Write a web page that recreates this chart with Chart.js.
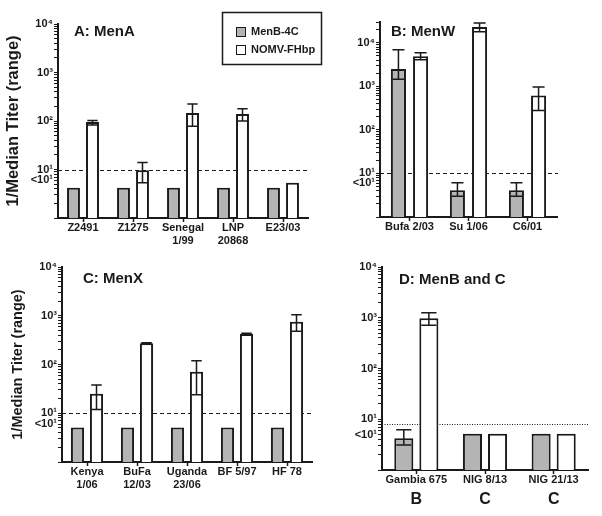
<!DOCTYPE html>
<html>
<head>
<meta charset="utf-8">
<script src="https://cdn.jsdelivr.net/npm/chart.js@4.4.1/dist/chart.umd.min.js"></script>
<style>
  body { margin:0; background:#fff; width:602px; height:516px; position:relative; overflow:hidden; }
  canvas { position:absolute; }
</style>
</head>
<body>
<canvas id="cA" width="330" height="258" style="left:0;top:0"></canvas>
<canvas id="cB" width="272" height="258" style="left:330px;top:0"></canvas>
<canvas id="cC" width="320" height="258" style="left:0;top:258px"></canvas>
<canvas id="cD" width="282" height="258" style="left:320px;top:258px"></canvas>
<script>
// valores (eje log, mediana y rango)
const seriesNames = ['MenB-4C', 'NOMV-FHbp'];
const yTickLabels = { 10: '10¹', 100: '10²', 1000: '10³', 10000: '10⁴' };
const lessLabel = '<10¹';

const catsA   = ['Z2491', 'Z1275', ['Senegal', '1/99'], ['LNP', '20868'], 'E23/03'];
const menbA   = [4.2, 4.2, 4.2, 4.2, 4.2];
const nomvA   = [95, 9.7, 146, 140, 5.3];
const nomvLoA = [83, 5.3, 78, 100, null];
const nomvHiA = [103, 14, 224, 178, null];

const catsB   = ['Bufa 2/03', 'Su 1/06', 'C6/01'];
const menbB   = [2500, 4.1, 4.1];
const menbLoB = [1450, 3.0, 3.0];
const menbHiB = [6900, 6.1, 6.1];
const nomvB   = [4900, 23000, 615];
const nomvLoB = [4100, 17800, 280];
const nomvHiB = [5900, 28500, 960];

const catsC   = [['Kenya', '1/06'], ['BuFa', '12/03'], ['Uganda', '23/06'], 'BF 5/97', 'HF 78'];
const menbC   = [5.1, 5.1, 5.1, 5.1, 5.1];
const nomvC   = [25, 272, 71, 420, 750];
const nomvLoC = [12, 265, 24, 400, 480];
const nomvHiC = [38, 280, 120, 440, 1050];

const catsD   = ['Gambia 675', 'NIG 8/13', 'NIG 21/13'];
const groupsD = ['B', 'C', 'C'];
const menbD   = [4.2, 5.2, 5.2];
const menbLoD = [3.1, null, null];
const menbHiD = [6.2, null, null];
const nomvD   = [980, 5.2, 5.2];
const nomvLoD = [710, null, null];
const nomvHiD = [1260, null, null];

const INK = '#1a1a1a', GRAY = '#b4b4b4';
const FONT = '"Liberation Sans", Arial, sans-serif';
Chart.defaults.font.family = FONT;
Chart.defaults.color = INK;

// ticks 1..9 por década, como en Prism
function logTicks(max) {
  const out = [];
  for (let p = 1; p <= max; p *= 10)
    for (let k = 1; k <= 9; k++) if (k * p <= max) out.push(k * p);
  return out;
}

const errorBars = {
  id: 'errorBars',
  afterDatasetsDraw(chart) {
    const { ctx } = chart, y = chart.scales.y;
    ctx.save();
    ctx.strokeStyle = INK;
    ctx.lineWidth = 1.5;
    chart.data.datasets.forEach((ds, i) => {
      if (!ds.lo) return;
      chart.getDatasetMeta(i).data.forEach((bar, j) => {
        if (ds.lo[j] == null) return;
        const y1 = y.getPixelForValue(ds.hi[j]), y2 = y.getPixelForValue(ds.lo[j]);
        const w = bar.width * 0.4;
        ctx.beginPath();
        ctx.moveTo(bar.x, y1); ctx.lineTo(bar.x, y2);
        ctx.moveTo(bar.x - w, y1); ctx.lineTo(bar.x + w, y1);
        ctx.moveTo(bar.x - w, y2); ctx.lineTo(bar.x + w, y2);
        ctx.stroke();
      });
    });
    ctx.restore();
  }
};

// línea de corte (detrás de las barras)
const cutoffLine = {
  id: 'cutoffLine',
  beforeDatasetsDraw(chart, args, opts) {
    const { ctx, chartArea } = chart;
    const yy = Math.round(chart.scales.y.getPixelForValue(opts.value)) + 0.5;
    ctx.save();
    ctx.strokeStyle = INK;
    ctx.lineWidth = opts.width;
    ctx.setLineDash(opts.dash);
    ctx.beginPath();
    ctx.moveTo(chartArea.left, yy);
    ctx.lineTo(chartArea.right + 1, yy);
    ctx.stroke();
    ctx.restore();
  }
};

const panelLabel = {
  id: 'panelLabel',
  afterDraw(chart, args, opts) {
    const { ctx, chartArea } = chart;
    ctx.save();
    ctx.font = `bold 15px ${FONT}`;
    ctx.fillStyle = INK;
    ctx.textBaseline = 'middle';
    ctx.fillText(opts.text, chartArea.left + opts.dx, chartArea.top + opts.dy);
    ctx.restore();
  }
};

// leyenda con recuadro, solo en el panel A
const boxLegend = {
  id: 'boxLegend',
  afterDraw(chart, args, opts) {
    const { ctx } = chart;
    ctx.save();
    ctx.strokeStyle = INK;
    ctx.lineWidth = 1.5;
    ctx.strokeRect(opts.x + 0.5, opts.y + 0.5, opts.w, opts.h);
    ctx.font = `bold 11px ${FONT}`;
    ctx.textBaseline = 'middle';
    chart.data.datasets.forEach((ds, i) => {
      const top = opts.y + 15 + i * 18;
      ctx.fillStyle = ds.backgroundColor;
      ctx.fillRect(opts.x + 14, top, 9, 9);
      ctx.lineWidth = 1;
      ctx.strokeRect(opts.x + 14.5, top + 0.5, 9, 9);
      ctx.fillStyle = INK;
      ctx.fillText(ds.label, opts.x + 29, top + 5);
    });
    ctx.restore();
  }
};

function makePanel(id, o) {
  const bar = { borderColor: INK, borderWidth: 2, categoryPercentage: o.cat, barPercentage: o.bar };
  const scales = {
    x: {
      offset: true,
      afterFit: s => { s.height = o.xHeight; },
      grid: { offset: false, drawOnChartArea: false, tickLength: 4, color: INK, tickWidth: 1.5 },
      border: { color: INK, width: 2 },
      ticks: { color: INK, padding: 0, maxRotation: 0, autoSkip: false, font: { size: 11, weight: 'bold', lineHeight: 1.15 } },
    },
    y: {
      type: 'logarithmic',
      min: 1,
      max: o.yMax,
      afterBuildTicks: s => { s.ticks = logTicks(o.yMax).map(v => ({ value: v })); },
      afterFit: s => { s.width = o.yWidth; },
      grid: { drawOnChartArea: false, tickLength: 4, color: INK, tickWidth: 1 },
      border: { color: INK, width: 2 },
      ticks: {
        autoSkip: false, padding: 1, color: INK,
        font: { size: 11, weight: 'bold' },
        callback: v => v === o.lessAt ? lessLabel : (yTickLabels[v] || ''),
      },
      title: o.yTitle
        ? { display: true, text: '1/Median Titer (range)', color: INK, font: { size: o.yTitle, weight: 'bold' }, padding: { top: o.yTitlePad, bottom: 0 } }
        : { display: false },
    },
  };
  if (o.groups) {
    scales.x2 = {
      type: 'category', position: 'bottom', labels: o.groups, offset: true, weight: 1,
      afterFit: s => { s.height = 20; },
      grid: { display: false, drawTicks: false },
      border: { display: false },
      ticks: { color: INK, padding: 2, font: { size: 16, weight: 'bold' } },
    };
  }
  const plugins = [cutoffLine, errorBars, panelLabel];
  if (o.legend) plugins.push(boxLegend);

  return new Chart(document.getElementById(id), {
    type: 'bar',
    data: {
      labels: o.cats,
      datasets: [
        { label: seriesNames[0], data: o.menb, lo: o.menbLo, hi: o.menbHi, backgroundColor: GRAY, ...bar },
        { label: seriesNames[1], data: o.nomv, lo: o.nomvLo, hi: o.nomvHi, backgroundColor: '#ffffff', ...bar },
      ],
    },
    options: {
      responsive: false,
      animation: false,
      layout: { padding: o.pad },
      scales,
      plugins: {
        legend: { display: false },
        tooltip: { enabled: false },
        cutoffLine: o.cutoff,
        panelLabel: o.label,
        boxLegend: o.legend || {},
      },
    },
    plugins,
  });
}

makePanel('cA', {
  cats: catsA, menb: menbA, nomv: nomvA, nomvLo: nomvLoA, nomvHi: nomvHiA,
  yMax: 10000, lessAt: 6, yWidth: 58, xHeight: 40, yTitle: 16.5, yTitlePad: 4,
  pad: { left: 0, top: 24, right: 22, bottom: 0 }, cat: 0.76, bar: 0.68,
  cutoff: { value: 10, dash: [4, 3], width: 1.2 },
  label: { text: 'A: MenA', dx: 16, dy: 8 },
  legend: { x: 222, y: 12, w: 99, h: 52 },
});

makePanel('cB', {
  cats: catsB, menb: menbB, menbLo: menbLoB, menbHi: menbHiB, nomv: nomvB, nomvLo: nomvLoB, nomvHi: nomvHiB,
  yMax: 30000, lessAt: 6, yWidth: 50, xHeight: 41,
  pad: { left: 0, top: 22, right: 45, bottom: 0 }, cat: 0.75, bar: 0.68,
  cutoff: { value: 10, dash: [4, 3], width: 1.2 },
  label: { text: 'B: MenW', dx: 11, dy: 10 },
});

makePanel('cC', {
  cats: catsC, menb: menbC, nomv: nomvC, nomvLo: nomvLoC, nomvHi: nomvHiC,
  yMax: 10000, lessAt: 6, yWidth: 62, xHeight: 54, yTitle: 14.5, yTitlePad: 9,
  pad: { left: 0, top: 9, right: 8, bottom: 0 }, cat: 0.76, bar: 0.69,
  cutoff: { value: 10, dash: [4, 3], width: 1.2 },
  label: { text: 'C: MenX', dx: 21, dy: 12 },
});

makePanel('cD', {
  cats: catsD, groups: groupsD, menb: menbD, menbLo: menbLoD, menbHi: menbHiD, nomv: nomvD, nomvLo: nomvLoD, nomvHi: nomvHiD,
  yMax: 10000, lessAt: 5, yWidth: 62, xHeight: 18,
  pad: { left: 0, top: 9, right: 14, bottom: 8 }, cat: 0.73, bar: 0.76,
  cutoff: { value: 8.2, dash: [1, 1.5], width: 1 },
  label: { text: 'D: MenB and C', dx: 17, dy: 13 },
});
</script>
</body>
</html>
